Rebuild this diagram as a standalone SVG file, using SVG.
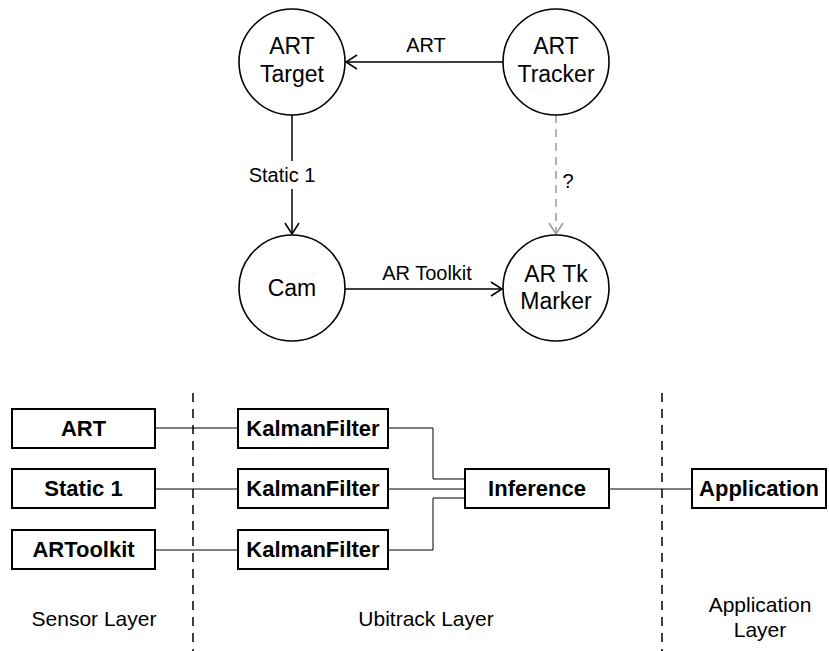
<svg xmlns="http://www.w3.org/2000/svg" width="829" height="651" viewBox="0 0 829 651">
<style>
.node{fill:#fff;stroke:#000;stroke-width:1.6}
.nt{font-family:"Liberation Sans",Arial,sans-serif;font-size:23px;text-anchor:middle;fill:#000}
.el{font-family:"Liberation Sans",Arial,sans-serif;font-size:20px;text-anchor:middle;fill:#000}
.box{fill:#fff;stroke:#000;stroke-width:2}
.bt{font-family:"Liberation Sans",Arial,sans-serif;font-size:22px;font-weight:bold;text-anchor:middle;fill:#000}
.lt{font-family:"Liberation Sans",Arial,sans-serif;font-size:21px;text-anchor:middle;fill:#000}
.edge{fill:none;stroke:#000;stroke-width:1.5}
.wire{fill:none;stroke:#000;stroke-width:1}
.div{fill:none;stroke:#000;stroke-width:1.5;stroke-dasharray:9,7}
</style>
<defs>
<marker id="arr" markerUnits="userSpaceOnUse" markerWidth="14" markerHeight="18" refX="12" refY="8" orient="auto">
<path d="M1,1 L12,8 L1,15" fill="none" stroke="#000" stroke-width="1.5"/>
</marker>
<marker id="arrg" markerUnits="userSpaceOnUse" markerWidth="14" markerHeight="18" refX="12" refY="8" orient="auto">
<path d="M1,1 L12,8 L1,15" fill="none" stroke="#999" stroke-width="1.5"/>
</marker>
</defs>
<g id="connectors">
<line class="edge" x1="503" y1="62" x2="346" y2="62" marker-end="url(#arr)"/>
<text class="el" x="426" y="52">ART</text>
<line class="edge" x1="292" y1="115" x2="292" y2="234" marker-end="url(#arr)"/>
<rect x="246" y="161" width="72" height="28" fill="#fff"/>
<text class="el" x="282" y="182">Static 1</text>
<line x1="556" y1="115" x2="556" y2="234" fill="none" stroke="#999" stroke-width="1.5" stroke-dasharray="8,6" marker-end="url(#arrg)"/>
<text class="el" x="568" y="188">?</text>
<line class="edge" x1="345" y1="289" x2="502" y2="289" marker-end="url(#arr)"/>
<text class="el" x="427" y="280">AR Toolkit</text>
<polyline class="wire" points="155,428 238,428"/>
<polyline class="wire" points="155,489 238,489"/>
<polyline class="wire" points="155,550 238,550"/>
<polyline class="wire" points="388,428 433,428 433,479 465,479"/>
<polyline class="wire" points="388,489 465,489"/>
<polyline class="wire" points="388,550 433,550 433,498 465,498"/>
<polyline class="wire" points="609,489 692,489"/>
</g>
<g id="dividers">
<line class="div" x1="193" y1="393" x2="193" y2="651"/>
<line class="div" x1="662" y1="393" x2="662" y2="651"/>
</g>
<g id="art-target"><circle class="node" cx="292" cy="62" r="53"/><text class="nt" x="292" y="54">ART</text><text class="nt" x="292" y="82">Target</text></g>
<g id="art-tracker"><circle class="node" cx="556" cy="62" r="53"/><text class="nt" x="556" y="54">ART</text><text class="nt" x="556" y="82">Tracker</text></g>
<g id="cam"><circle class="node" cx="292" cy="288" r="53"/><text class="nt" x="292" y="296">Cam</text></g>
<g id="ar-tk-marker"><circle class="node" cx="556" cy="288" r="53"/><text class="nt" x="556" y="282">AR Tk</text><text class="nt" x="556" y="309">Marker</text></g>
<g id="box-art"><rect class="box" x="12" y="409" width="143" height="39"/><text class="bt" x="83.5" y="436">ART</text></g>
<g id="box-static1"><rect class="box" x="12" y="469" width="143" height="39"/><text class="bt" x="83.5" y="496">Static 1</text></g>
<g id="box-artoolkit"><rect class="box" x="12" y="530" width="143" height="39"/><text class="bt" x="83.5" y="557">ARToolkit</text></g>
<g id="kf1"><rect class="box" x="238" y="409" width="150" height="39"/><text class="bt" x="313" y="436">KalmanFilter</text></g>
<g id="kf2"><rect class="box" x="238" y="469" width="150" height="39"/><text class="bt" x="313" y="496">KalmanFilter</text></g>
<g id="kf3"><rect class="box" x="238" y="530" width="150" height="39"/><text class="bt" x="313" y="557">KalmanFilter</text></g>
<g id="inference"><rect class="box" x="465" y="469" width="144" height="39"/><text class="bt" x="537" y="496">Inference</text></g>
<g id="application"><rect class="box" x="692" y="469" width="134" height="39"/><text class="bt" x="759" y="496">Application</text></g>
<g id="labels">
<text class="lt" x="94" y="626">Sensor Layer</text>
<text class="lt" x="426" y="626">Ubitrack Layer</text>
<text class="lt" x="760" y="612">Application</text>
<text class="lt" x="760" y="637">Layer</text>
</g>
</svg>
